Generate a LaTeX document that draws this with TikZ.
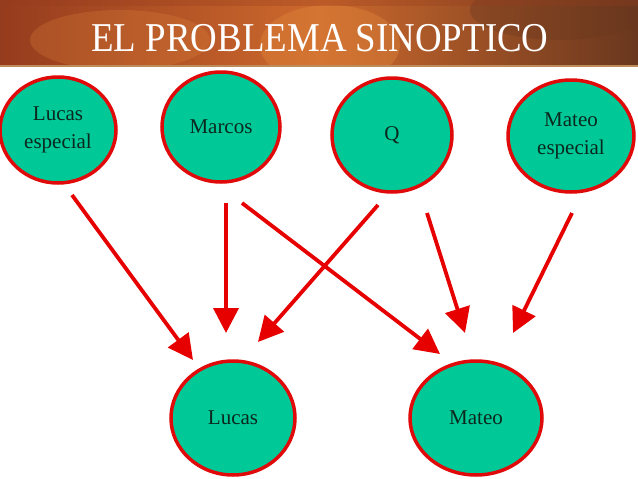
\documentclass[tikz,border=0pt]{standalone}
\usepackage{fontspec}
\setmainfont{Liberation Serif}
\usetikzlibrary{shapes.geometric,arrows.meta,shadings}
\definecolor{nodefill}{RGB}{0,200,150}
\definecolor{nodeborder}{RGB}{225,10,10}
\definecolor{arrowred}{RGB}{230,0,0}
\definecolor{nodetext}{RGB}{10,40,30}
\definecolor{bandA}{RGB}{150,60,30}
\definecolor{bandB}{RGB}{205,105,45}
\definecolor{bandC}{RGB}{225,135,60}
\definecolor{bandD}{RGB}{105,55,30}
\tikzset{
  circ/.style={ellipse, draw=nodeborder, line width=3.5pt, fill=nodefill,
    inner sep=0pt, font=\fontsize{21}{28}\selectfont, align=center, text=nodetext},
  conn/.style={draw=arrowred, line width=3.8pt,
    -{Triangle[length=25pt,width=25pt]}},
}
\begin{document}
\begin{tikzpicture}[x=1pt,y=-1pt]
\useasboundingbox (0,0) rectangle (638,479);
\fill[white] (0,0) rectangle (638,479);
% title band
\begin{scope}
\clip (0,0) rectangle (638,66);
\shade[left color=bandA, right color=bandD, middle color=bandB] (0,0) rectangle (638,66);
\fill[bandC, opacity=0.4] (330,45) ellipse (70 and 40);
\fill[bandC, opacity=0.25] (120,40) ellipse (90 and 30);
\fill[bandD, opacity=0.35] (560,10) ellipse (90 and 30);
\fill[bandA, opacity=0.3] (0,0) rectangle (638,6);
\end{scope}
\draw[color={rgb,255:red,190;green,140;blue,90}, line width=2pt] (0,66) -- (638,66);
\node[text=white, font=\fontsize{41}{41}\selectfont, xscale=0.9] (title) at (320,38) {EL PROBLEMA SINOPTICO};
% nodes
\node[circ, minimum width=116pt, minimum height=106pt] (le) at (58,130) {Lucas\\especial};
\node[circ, minimum width=118pt, minimum height=110pt] (mar) at (221,127) {Marcos};
\node[circ, minimum width=120pt, minimum height=114pt] (q) at (392,135) {Q};
\node[circ, minimum width=126pt, minimum height=112pt] (me) at (571,136) {Mateo\\especial};
\node[circ, minimum width=124pt, minimum height=114pt] (luc) at (233,418) {Lucas};
\node[circ, minimum width=132pt, minimum height=114pt] (mat) at (476,418) {Mateo};
% arrow end points
\coordinate (a1s) at (72,195);  \coordinate (a1e) at (193,360);
\coordinate (a2s) at (226,203); \coordinate (a2e) at (226,333);
\coordinate (a3s) at (242,203); \coordinate (a3e) at (440,354);
\coordinate (a4s) at (378,205); \coordinate (a4e) at (258,342);
\coordinate (a5s) at (427,213); \coordinate (a5e) at (465,333);
\coordinate (a6s) at (572,213); \coordinate (a6e) at (513,333);
\draw[conn] (a1s) -- (a1e);
\draw[conn] (a2s) -- (a2e);
\draw[conn] (a3s) -- (a3e);
\draw[conn] (a4s) -- (a4e);
\draw[conn] (a5s) -- (a5e);
\draw[conn] (a6s) -- (a6e);
\end{tikzpicture}
\end{document}
